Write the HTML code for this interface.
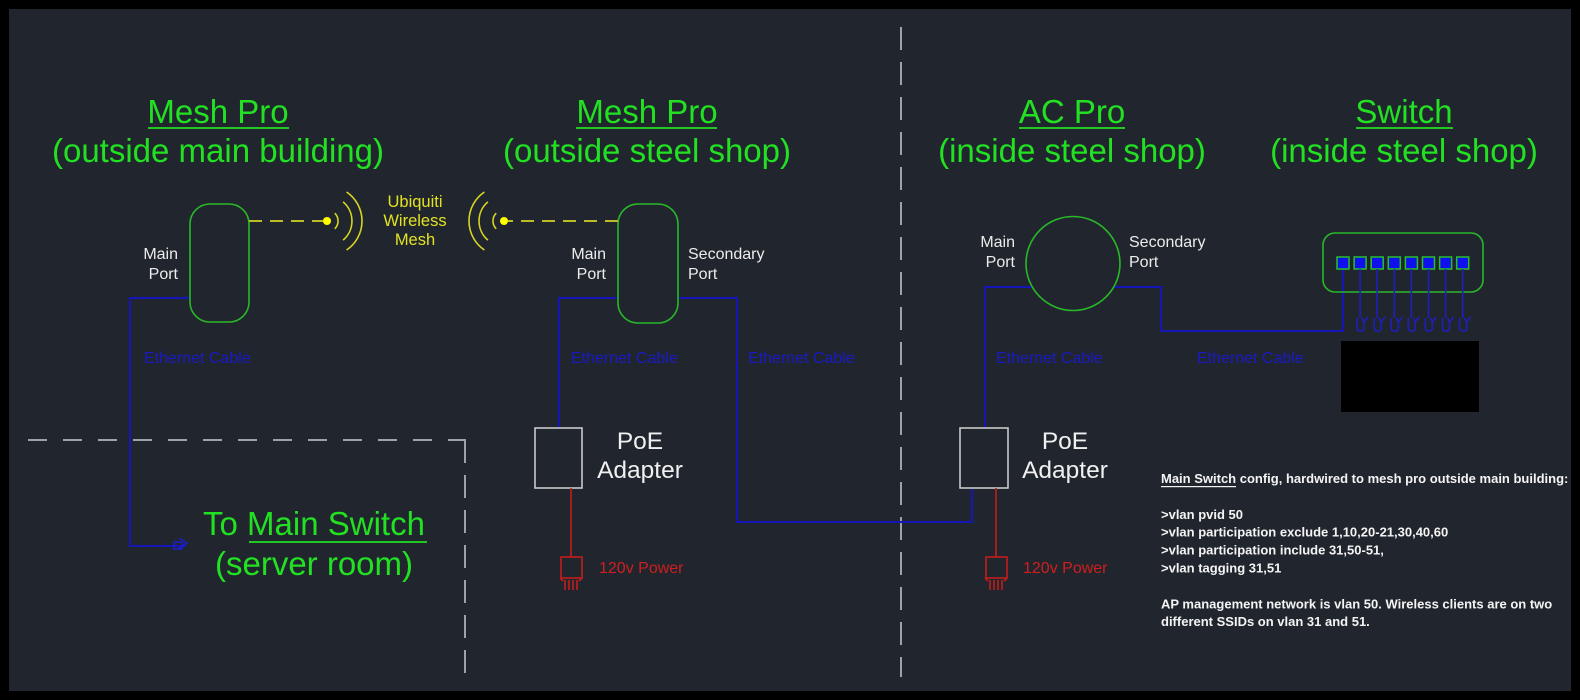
<!DOCTYPE html>
<html>
<head>
<meta charset="utf-8">
<style>
  html,body{margin:0;padding:0;background:#000;}
  svg{display:block;}
  text{font-family:"Liberation Sans", Arial, sans-serif;}
</style>
</head>
<body>
<svg width="1580" height="700" viewBox="0 0 1580 700" xmlns="http://www.w3.org/2000/svg">
  <rect x="0" y="0" width="1580" height="700" fill="#000"/>
  <rect x="9" y="9" width="1562" height="682" fill="#21262e"/>

  <!-- gray dashed boundaries -->
  <g stroke="#9ea3a9" stroke-width="2" fill="none">
    <line x1="901" y1="27" x2="901" y2="677" stroke-dasharray="23 12"/>
    <line x1="28" y1="440" x2="466" y2="440" stroke-dasharray="19 16"/>
    <line x1="465" y1="440" x2="465" y2="676" stroke-dasharray="23 12"/>
  </g>

  <!-- Titles -->
  <g fill="#22e022" font-size="33" text-anchor="middle">
    <text x="218" y="123">Mesh Pro</text>
    <text x="218" y="162">(outside main building)</text>
    <text x="647" y="123">Mesh Pro</text>
    <text x="647" y="162">(outside steel shop)</text>
    <text x="1072" y="123">AC Pro</text>
    <text x="1072" y="162">(inside steel shop)</text>
    <text x="1404" y="123">Switch</text>
    <text x="1404" y="162">(inside steel shop)</text>
    <text x="314" y="535">To Main Switch</text>
    <text x="314" y="575">(server room)</text>
  </g>
  <g fill="#22c822">
    <rect x="148" y="127" width="141" height="2"/>
    <rect x="576" y="127" width="141" height="2"/>
    <rect x="1019" y="127" width="106" height="2"/>
    <rect x="1356" y="127" width="97" height="2"/>
    <rect x="249" y="541" width="178" height="2"/>
  </g>

  <!-- Blue ethernet lines -->
  <g stroke="#1616b8" stroke-width="2" fill="none">
    <polyline points="190,298 130,298 130,546 186,546"/>
    <polyline points="618,298 559,298 559,428"/>
    <polyline points="678,298 737,298 737,522 972,522 972,488"/>
    <polyline points="1032,287 985,287 985,428"/>
    <polyline points="1114,287 1161,287 1161,331 1343,331 1343,269"/>
  </g>
  <!-- arrow/plug at main switch -->
  <g stroke="#1e1ec8" stroke-width="1.5" fill="none">
    <rect x="174" y="542" width="8" height="7"/>
    <polyline points="179,538 187,543 179,548"/>
  </g>

  <!-- Mesh Pro boxes -->
  <g stroke="#28b828" stroke-width="1.6" fill="none">
    <rect x="190" y="204" width="59" height="118" rx="20"/>
    <rect x="618" y="204" width="60" height="119" rx="20"/>
    <circle cx="1073" cy="263.5" r="47"/>
    <rect x="1323" y="233" width="160" height="59" rx="12"/>
  </g>

  <!-- Wireless -->
  <g stroke="#bcbc26" stroke-width="2" fill="none" stroke-dasharray="13 8">
    <line x1="249" y1="221" x2="323" y2="221"/>
    <line x1="618" y1="221" x2="508" y2="221"/>
  </g>
  <circle cx="327" cy="221" r="4" fill="#ffff00"/>
  <circle cx="504" cy="221" r="4" fill="#ffff00"/>
  <g stroke="#d6d620" stroke-width="1.6" fill="none">
    <path d="M334.8,213.2 A11,11 0 0 1 334.8,228.8"/>
    <path d="M343.1,201.9 A25,25 0 0 1 343.1,240.1"/>
    <path d="M346.6,192 A35,35 0 0 1 346.6,250"/>
    <path d="M496.2,213.2 A11,11 0 0 0 496.2,228.8"/>
    <path d="M487.9,201.9 A25,25 0 0 0 487.9,240.1"/>
    <path d="M484.4,192 A35,35 0 0 0 484.4,250"/>
  </g>
  <g fill="#e2e222" font-size="16.5" text-anchor="middle">
    <text x="415" y="207">Ubiquiti</text>
    <text x="415" y="226">Wireless</text>
    <text x="415" y="245">Mesh</text>
  </g>

  <!-- Port labels -->
  <g fill="#ececec" font-size="16">
    <text x="178" y="259" text-anchor="end">Main</text>
    <text x="178" y="279" text-anchor="end">Port</text>
    <text x="606" y="259" text-anchor="end">Main</text>
    <text x="606" y="279" text-anchor="end">Port</text>
    <text x="688" y="259">Secondary</text>
    <text x="688" y="279">Port</text>
    <text x="1015" y="247" text-anchor="end">Main</text>
    <text x="1015" y="267" text-anchor="end">Port</text>
    <text x="1129" y="247">Secondary</text>
    <text x="1129" y="267">Port</text>
  </g>

  <!-- Ethernet cable labels -->
  <g fill="#1a1ac4" font-size="16">
    <text x="144" y="363">Ethernet Cable</text>
    <text x="571" y="363">Ethernet Cable</text>
    <text x="748" y="363">Ethernet Cable</text>
    <text x="996" y="363">Ethernet Cable</text>
    <text x="1197" y="363">Ethernet Cable</text>
  </g>

  <!-- PoE adapters -->
  <g stroke="#c8c8c8" stroke-width="1.6" fill="none">
    <rect x="535" y="428" width="47" height="60"/>
    <rect x="960" y="428" width="48" height="60"/>
  </g>
  <g fill="#f0f0f0" font-size="24.5" text-anchor="middle">
    <text x="640" y="449">PoE</text>
    <text x="640" y="478">Adapter</text>
    <text x="1065" y="449">PoE</text>
    <text x="1065" y="478">Adapter</text>
  </g>

  <!-- Power -->
  <g stroke="#c41c1c" stroke-width="1.6" fill="none">
    <line x1="571" y1="488" x2="571" y2="557"/>
    <rect x="561" y="557" width="21" height="21"/>
    <path d="M560,578 L563,581 M582,578 L579,581"/>
    <path d="M565,580 V590 M569,580 V590 M573,580 V590 M577,580 V590"/>
    <line x1="996" y1="488" x2="996" y2="557"/>
    <rect x="986" y="557" width="21" height="21"/>
    <path d="M985,578 L988,581 M1007,578 L1004,581"/>
    <path d="M990,580 V590 M994,580 V590 M998,580 V590 M1002,580 V590"/>
  </g>
  <g fill="#d01e1e" font-size="16">
    <text x="599" y="573">120v Power</text>
    <text x="1023" y="573">120v Power</text>
  </g>

  <!-- Switch ports -->
  <g stroke="#26c026" stroke-width="1.5" fill="#1010ee">
    <rect x="1337" y="257" width="12" height="12"/>
    <rect x="1354.1" y="257" width="12" height="12"/>
    <rect x="1371.2" y="257" width="12" height="12"/>
    <rect x="1388.3" y="257" width="12" height="12"/>
    <rect x="1405.4" y="257" width="12" height="12"/>
    <rect x="1422.5" y="257" width="12" height="12"/>
    <rect x="1439.6" y="257" width="12" height="12"/>
    <rect x="1456.7" y="257" width="12" height="12"/>
  </g>
  <g stroke="#1e1ec4" stroke-width="1.5" fill="none">
    <path d="M1360.1,269 V318 M1377.2,269 V318 M1394.3,269 V318 M1411.4,269 V318 M1428.5,269 V318 M1445.6,269 V318 M1462.7,269 V318"/>
    <g id="plugs">
      <path d="M1357,318 v10 q0,3 3,3 h1 q3,0 3,-3 v-6 l4,-5 M1364,322 l-2,-4"/>
      <path d="M1374.1,318 v10 q0,3 3,3 h1 q3,0 3,-3 v-6 l4,-5 M1381.1,322 l-2,-4"/>
      <path d="M1391.2,318 v10 q0,3 3,3 h1 q3,0 3,-3 v-6 l4,-5 M1398.2,322 l-2,-4"/>
      <path d="M1408.3,318 v10 q0,3 3,3 h1 q3,0 3,-3 v-6 l4,-5 M1415.3,322 l-2,-4"/>
      <path d="M1425.4,318 v10 q0,3 3,3 h1 q3,0 3,-3 v-6 l4,-5 M1432.4,322 l-2,-4"/>
      <path d="M1442.5,318 v10 q0,3 3,3 h1 q3,0 3,-3 v-6 l4,-5 M1449.5,322 l-2,-4"/>
      <path d="M1459.6,318 v10 q0,3 3,3 h1 q3,0 3,-3 v-6 l4,-5 M1466.6,322 l-2,-4"/>
    </g>
  </g>
  <rect x="1341" y="341" width="138" height="71" fill="#000"/>

  <!-- Config text -->
  <g fill="#f4f4f4" font-size="13" font-weight="bold">
    <text x="1161" y="483">Main Switch config, hardwired to mesh pro outside main building:</text>
    <text x="1161" y="518.8">&gt;vlan pvid 50</text>
    <text x="1161" y="536.7">&gt;vlan participation exclude 1,10,20-21,30,40,60</text>
    <text x="1161" y="554.6">&gt;vlan participation include 31,50-51,</text>
    <text x="1161" y="572.5">&gt;vlan tagging 31,51</text>
    <text x="1161" y="608.3">AP management network is vlan 50. Wireless clients are on two</text>
    <text x="1161" y="626.2">different SSIDs on vlan 31 and 51.</text>
  </g>
  <rect x="1161" y="486" width="75" height="1.2" fill="#f4f4f4"/>
</svg>
</body>
</html>
